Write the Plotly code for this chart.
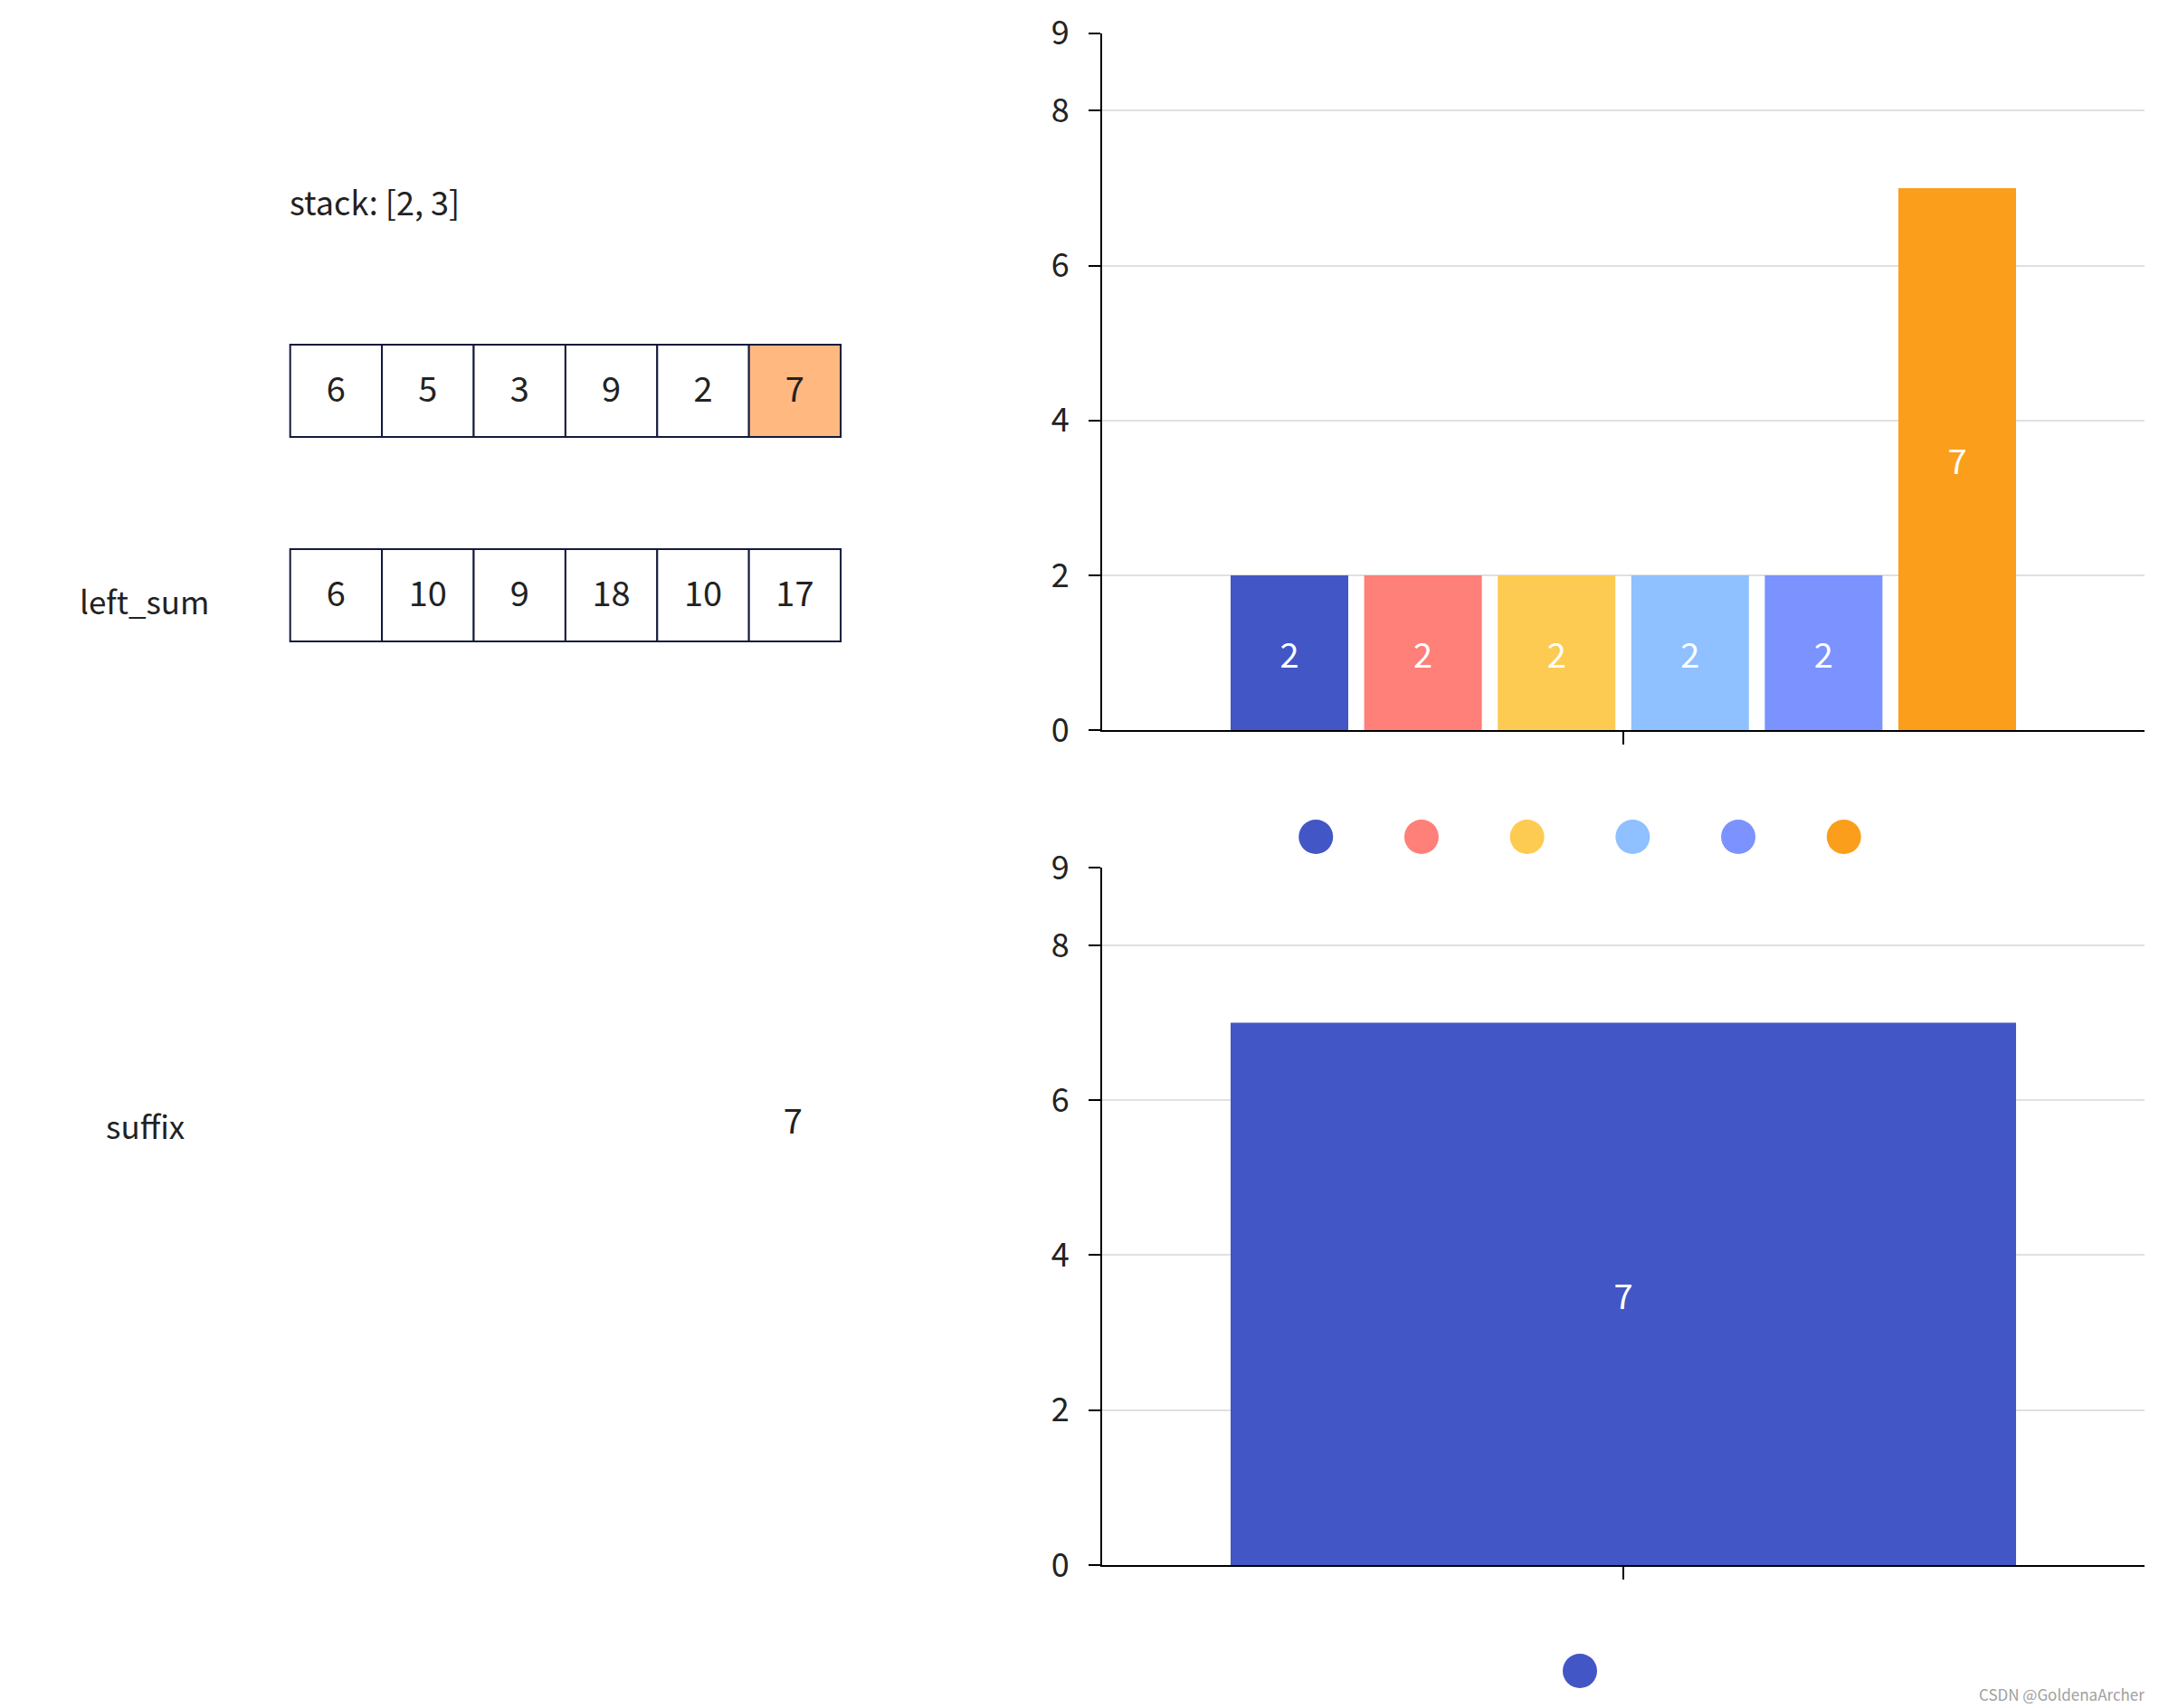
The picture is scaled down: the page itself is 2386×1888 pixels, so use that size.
import plotly.graph_objects as go

# ---------------- data ----------------
nums = [6, 5, 3, 9, 2, 7]
left_sum = [6, 10, 9, 18, 10, 17]
highlight_idx = 5
stack = [2, 3]
suffix_idx = [5]
suffix_vals = [7]

bar_top_values = [2, 2, 2, 2, 2, 7]
bar_bottom_values = [7]
colors = ["#4356C5", "#FF7F79", "#FDCB52", "#8FC0FF", "#7B92FF", "#FB9E1C"]

# ---------------- layout constants ----------------
W, H = 2386, 1888
FONT = "Noto Sans CJK SC"
TXT = "#222222"
BORDER = "#141A3C"
HILITE = "#FFB880"

# left panel geometry (pixels)
CELL_W, CELL_H = 101.4, 102.0
X0, Y0 = 320.7, 381.0
LEFT_DOM = 0.5
ROW_NUMS_PX = 381.0
ROW_LS_PX = 607.0
STACK_PX = 222.0
SUFFIX_PX = 1243.0
LABEL_X_PX = 160.0

def px_to_row(p):
    return (p - Y0) / CELL_H

def px_to_col(p):
    return (p - X0) / CELL_W

row_nums = px_to_row(ROW_NUMS_PX)
row_ls = px_to_row(ROW_LS_PX)

# right charts geometry
PLOT_L, PLOT_R = 1218.0, 2370.0
TOP_T, TOP_B = 36.7, 807.3
BOT_T, BOT_B = 959.3, 1730.0
LEG_TOP_PX, LEG_BOT_PX = 925.0, 1847.0
LEG_STEP, LEG_CENTER = 116.7, 1746.0

fig = go.Figure()

# ---------------- top chart: 6 grouped bars ----------------
for i, (v, c) in enumerate(zip(bar_top_values, colors)):
    fig.add_trace(go.Bar(
        x=["c"], y=[v], marker=dict(color=c, line=dict(width=0)),
        text=[str(v)], textposition="inside", insidetextanchor="middle",
        textangle=0, insidetextfont=dict(color="white", size=38, family=FONT),
        showlegend=False, hoverinfo="skip", xaxis="x", yaxis="y"))

# ---------------- bottom chart: single bar ----------------
fig.add_trace(go.Bar(
    x=["c"], y=bar_bottom_values, width=[868 / (PLOT_R - PLOT_L)],
    marker=dict(color=colors[0], line=dict(width=0)),
    text=[str(v) for v in bar_bottom_values], textposition="inside",
    insidetextanchor="middle", textangle=0,
    insidetextfont=dict(color="white", size=38, family=FONT),
    showlegend=False, hoverinfo="skip", xaxis="x2", yaxis="y2"))

# ---------------- legend dots (custom) ----------------
n = len(colors)
fig.add_trace(go.Scatter(
    x=[i - (n - 1) / 2 for i in range(n)], y=[LEG_TOP_PX] * n, mode="markers",
    marker=dict(size=38, color=colors, symbol="circle", line=dict(width=0)),
    showlegend=False, hoverinfo="skip", xaxis="x4", yaxis="y4", cliponaxis=False))
fig.add_trace(go.Scatter(
    x=[0.0], y=[LEG_BOT_PX], mode="markers",
    marker=dict(size=38, color=colors[0], symbol="circle", line=dict(width=0)),
    showlegend=False, hoverinfo="skip", xaxis="x4", yaxis="y4", cliponaxis=False))

# ---------------- left panel: cells ----------------
shapes = []
for i, v in enumerate(nums):
    shapes.append(dict(type="rect", xref="x3", yref="y3", x0=i, x1=i + 1,
                       y0=row_nums, y1=row_nums + 1,
                       fillcolor=HILITE if i == highlight_idx else "white",
                       line=dict(color=BORDER, width=2), layer="below"))
for i, v in enumerate(left_sum):
    shapes.append(dict(type="rect", xref="x3", yref="y3", x0=i, x1=i + 1,
                       y0=row_ls, y1=row_ls + 1, fillcolor="white",
                       line=dict(color=BORDER, width=2), layer="below"))

fig.add_trace(go.Scatter(
    x=[i + 0.5 for i in range(len(nums))], y=[row_nums + 0.52] * len(nums),
    mode="text", text=[str(v) for v in nums],
    textfont=dict(size=38, color=TXT, family=FONT),
    showlegend=False, hoverinfo="skip", xaxis="x3", yaxis="y3"))
fig.add_trace(go.Scatter(
    x=[i + 0.5 for i in range(len(left_sum))], y=[row_ls + 0.52] * len(left_sum),
    mode="text", text=[str(v) for v in left_sum],
    textfont=dict(size=38, color=TXT, family=FONT),
    showlegend=False, hoverinfo="skip", xaxis="x3", yaxis="y3"))
fig.add_trace(go.Scatter(
    x=[i + 0.48 for i in suffix_idx], y=[px_to_row(SUFFIX_PX)] * len(suffix_idx),
    mode="text", text=[str(v) for v in suffix_vals],
    textfont=dict(size=38, color=TXT, family=FONT),
    showlegend=False, hoverinfo="skip", xaxis="x3", yaxis="y3"))

annotations = [
    dict(xref="x3", yref="y3", x=-0.03, y=px_to_row(STACK_PX), xanchor="left",
         yanchor="middle", text=f"stack: {stack}", showarrow=False,
         font=dict(size=36, color=TXT, family=FONT)),
    dict(xref="x3", yref="y3", x=px_to_col(LABEL_X_PX), y=row_ls + 0.55,
         xanchor="center", yanchor="middle", text="left_sum", showarrow=False,
         font=dict(size=35, color=TXT, family=FONT)),
    dict(xref="x3", yref="y3", x=px_to_col(LABEL_X_PX), y=px_to_row(SUFFIX_PX),
         xanchor="center", yanchor="middle", text="suffix", showarrow=False,
         font=dict(size=35, color=TXT, family=FONT)),
    dict(xref="paper", yref="paper", x=2372 / W, y=1 - 1872 / H,
         xanchor="right", yanchor="middle", text="CSDN @GoldenaArcher",
         showarrow=False, font=dict(size=17, color="#A0A0A0", family=FONT)),
]

yaxis_common = dict(
    range=[0, 9], tickvals=[0, 2, 4, 6, 8, 9], showgrid=True,
    gridcolor="#E0E0E0", gridwidth=2, zeroline=False, showline=True,
    linecolor="black", linewidth=2, ticks="outside", ticklen=13,
    tickwidth=2, tickcolor="black", ticklabelstandoff=14,
    tickfont=dict(size=36, color=TXT, family=FONT), fixedrange=True,
    automargin=False)
xaxis_common = dict(
    type="category", showgrid=False, zeroline=False, showline=True,
    linecolor="black", linewidth=2, ticks="outside", ticklen=14,
    tickwidth=2, tickcolor="black", showticklabels=False, fixedrange=True,
    automargin=False)
hidden = dict(visible=False, fixedrange=True, automargin=False,
              showgrid=False, zeroline=False)

fig.update_layout(
    template="none",
    width=W, height=H, margin=dict(l=0, r=0, t=0, b=0, pad=0),
    paper_bgcolor="white", plot_bgcolor="rgba(0,0,0,0)",
    barmode="group", bargap=0.2313, bargroupgap=0.119,
    font=dict(family=FONT, color=TXT),
    showlegend=False,
    xaxis=dict(domain=[PLOT_L / W, PLOT_R / W], anchor="y", **xaxis_common),
    yaxis=dict(domain=[1 - TOP_B / H, 1 - TOP_T / H], anchor="x", **yaxis_common),
    xaxis2=dict(domain=[PLOT_L / W, PLOT_R / W], anchor="y2", **xaxis_common),
    yaxis2=dict(domain=[1 - BOT_B / H, 1 - BOT_T / H], anchor="x2", **yaxis_common),
    xaxis3=dict(domain=[0, LEFT_DOM], anchor="y3",
                range=[px_to_col(0), px_to_col(W * LEFT_DOM)], **hidden),
    yaxis3=dict(domain=[0, 1], anchor="x3",
                range=[px_to_row(H), px_to_row(0)], **hidden),
    xaxis4=dict(domain=[LEFT_DOM, 1], anchor="y4",
                range=[(W * LEFT_DOM - LEG_CENTER) / LEG_STEP, (W - LEG_CENTER) / LEG_STEP],
                **hidden),
    yaxis4=dict(domain=[0, 1], anchor="x4", range=[H, 0], **hidden),
    shapes=shapes,
    annotations=annotations,
)

fig.write_html("out.html")
